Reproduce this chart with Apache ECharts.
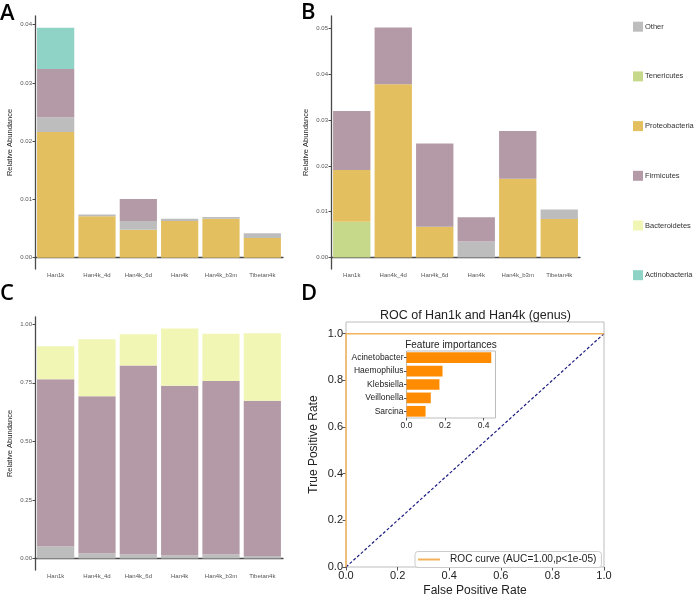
<!DOCTYPE html>
<html><head><meta charset="utf-8">
<script src="https://cdn.jsdelivr.net/npm/echarts@6/dist/echarts.min.js"></script>
<style>html,body{margin:0;padding:0;background:#fff}#c{width:696px;height:598px}</style>
</head><body><div id="c"></div>
<script>
const categories = ['Han1k','Han4k_4d','Han4k_6d','Han4k','Han4k_b3m','Tibetan4k'];
const phyla = ['Tenericutes','Proteobacteria','Other','Firmicutes','Bacteroidetes','Actinobacteria']; // stack order bottom -> top
const legendOrder = ['Other','Tenericutes','Proteobacteria','Firmicutes','Bacteroidetes','Actinobacteria'];
const phylumColors = {Other:'#BDBDBD',Tenericutes:'#C6D98B',Proteobacteria:'#E3BF5F',Firmicutes:'#B39AA6',Bacteroidetes:'#F1F6B4',Actinobacteria:'#8ED3C6'};

// Panel A
const A_Tenericutes    = [0,0,0,0,0,0];
const A_Proteobacteria = [0.0216,0.0071,0.0048,0.0063,0.0067,0.0034];
const A_Other          = [0.0025,0.0003,0.0015,0.0004,0.0003,0.0008];
const A_Firmicutes     = [0.0083,0,0.0038,0,0,0];
const A_Bacteroidetes  = [0,0,0,0,0,0];
const A_Actinobacteria = [0.0071,0,0,0,0,0];
const A_ticks = [0,0.01,0.02,0.03,0.04];
// Panel B
const B_Tenericutes    = [0.0078,0,0,0,0,0];
const B_Proteobacteria = [0.0113,0.0378,0.0067,0,0.0172,0.0084];
const B_Other          = [0,0,0,0.0035,0,0.0021];
const B_Firmicutes     = [0.0129,0.0124,0.0182,0.0053,0.0104,0];
const B_Bacteroidetes  = [0,0,0,0,0,0];
const B_Actinobacteria = [0,0,0,0,0,0];
const B_ticks = [0,0.01,0.02,0.03,0.04,0.05];
// Panel C
const C_Tenericutes    = [0,0,0,0,0,0];
const C_Proteobacteria = [0,0,0,0,0,0];
const C_Other          = [0.052,0.0225,0.018,0.014,0.018,0.011];
const C_Firmicutes     = [0.713,0.6705,0.806,0.724,0.740,0.662];
const C_Bacteroidetes  = [0.141,0.243,0.133,0.244,0.201,0.289];
const C_Actinobacteria = [0,0,0,0,0,0];
const C_ticks = [0,0.25,0.5,0.75,1.0];
// Panel D
const roc_fpr = [0,0,1];
const roc_tpr = [0,1,1];
const chance_x = [0,1];
const chance_y = [0,1];
const D_ticks = [0,0.2,0.4,0.6,0.8,1.0];
const features = ['Acinetobacter','Haemophilus','Klebsiella','Veillonella','Sarcina'];
const importances = [0.44,0.187,0.171,0.126,0.099];
const inset_ticks = [0,0.2,0.4];
const rocName = 'ROC curve (AUC=1.00,p<1e-05)';

const panels = {
  A:{Tenericutes:A_Tenericutes,Proteobacteria:A_Proteobacteria,Other:A_Other,Firmicutes:A_Firmicutes,Bacteroidetes:A_Bacteroidetes,Actinobacteria:A_Actinobacteria},
  B:{Tenericutes:B_Tenericutes,Proteobacteria:B_Proteobacteria,Other:B_Other,Firmicutes:B_Firmicutes,Bacteroidetes:B_Bacteroidetes,Actinobacteria:B_Actinobacteria},
  C:{Tenericutes:C_Tenericutes,Proteobacteria:C_Proteobacteria,Other:C_Other,Firmicutes:C_Firmicutes,Bacteroidetes:C_Bacteroidetes,Actinobacteria:C_Actinobacteria}
};

const gg = 'Liberation Sans, Arial, sans-serif';
const axisGray = '#4a4a4a';
function ggX(gi){
  return {type:'category',gridIndex:gi,data:categories,boundaryGap:true,
    axisLine:{lineStyle:{color:axisGray,width:1.3}},
    axisTick:{alignWithLabel:true,length:2.5,lineStyle:{color:axisGray}},
    axisLabel:{interval:0,fontSize:6,color:'#555',fontFamily:gg,margin:3}};
}
function ggY(gi,min,max,ticks){
  return {type:'value',gridIndex:gi,min:min,max:max,
    name:'Relative Abundance',nameLocation:'middle',nameGap:21,
    nameTextStyle:{fontSize:7.5,color:'#222',fontFamily:gg},
    splitLine:{show:false},
    axisLine:{show:true,lineStyle:{color:axisGray,width:1.3}},
    axisTick:{show:true,length:2.5,customValues:ticks,lineStyle:{color:axisGray}},
    axisLabel:{fontSize:6,color:'#555',fontFamily:gg,margin:3,customValues:ticks,formatter:v=>v.toFixed(2)}};
}

const series = [];
['A','B','C'].forEach((p,gi)=>{
  phyla.forEach(name=>{
    series.push({type:'bar',name:name,xAxisIndex:gi,yAxisIndex:gi,stack:'s'+p,
      barCategoryGap:'10%',itemStyle:{color:phylumColors[name]},
      emphasis:{disabled:true},data:panels[p][name]});
  });
});
series.push({type:'line',name:rocName,xAxisIndex:3,yAxisIndex:3,symbol:'none',
  lineStyle:{color:'#F2B35C',width:1.5},itemStyle:{color:'#F2B35C'},
  data:roc_fpr.map((x,i)=>[x,roc_tpr[i]]),z:5});
series.push({type:'line',name:'chance',xAxisIndex:3,yAxisIndex:3,symbol:'none',
  lineStyle:{color:'#1c1c80',width:1.2,type:[3,2]},
  data:chance_x.map((x,i)=>[x,chance_y[i]])});
series.push({type:'bar',name:'importance',xAxisIndex:4,yAxisIndex:4,barCategoryGap:'20%',z:8,
  itemStyle:{color:'#FF8C00'},emphasis:{disabled:true},data:importances});

const sans = 'Liberation Sans, Arial, sans-serif';
const dAxisText = {fontSize:11,color:'#222',fontFamily:sans};
const letter = {fontSize:22,fontFamily:'Open Sans, sans-serif',fontWeight:600,fill:'#000',verticalAlign:'middle'};

const option = {
  animation:false,
  backgroundColor:'#fff',
  grid:[
    {left:35,top:16,width:248,height:253},
    {left:331,top:16,width:249,height:253},
    {left:35,top:317,width:248,height:253},
    {left:346,top:322,width:258,height:252,show:true,borderColor:'#bdbdbd',borderWidth:1,backgroundColor:'transparent'},
    {left:406.5,top:351,width:89,height:67,show:true,borderColor:'#bdbdbd',borderWidth:1,backgroundColor:'#fff',z:6}
  ],
  xAxis:[
    ggX(0),ggX(1),ggX(2),
    {type:'value',gridIndex:3,min:0,max:1,interval:0.2,
      name:'False Positive Rate',nameLocation:'middle',nameGap:18,nameTextStyle:{fontSize:12,color:'#222',fontFamily:sans},
      splitLine:{show:false},axisLine:{show:false},
      axisTick:{show:true,length:3.5,lineStyle:{color:'#555'}},
      axisLabel:Object.assign({margin:3,formatter:v=>v.toFixed(1)},dAxisText)},
    {type:'value',gridIndex:4,min:0,max:0.462,z:8,
      splitLine:{show:false},axisLine:{show:false},
      axisTick:{show:true,length:2.5,customValues:inset_ticks,lineStyle:{color:'#555'}},
      axisLabel:{fontSize:8.5,color:'#222',fontFamily:sans,margin:3,customValues:inset_ticks,formatter:v=>v.toFixed(1)}}
  ],
  yAxis:[
    ggY(0,-0.00194,0.0415,A_ticks),
    ggY(1,-0.0025,0.0527,B_ticks),
    ggY(2,-0.049,1.031,C_ticks),
    {type:'value',gridIndex:3,min:0,max:1.05,
      name:'True Positive Rate',nameLocation:'middle',nameGap:26,nameTextStyle:{fontSize:12,color:'#222',fontFamily:sans},
      splitLine:{show:false},axisLine:{show:false},
      axisTick:{show:true,length:3.5,customValues:D_ticks,lineStyle:{color:'#555'}},
      axisLabel:Object.assign({margin:3,customValues:D_ticks,formatter:v=>v.toFixed(1)},dAxisText)},
    {type:'category',gridIndex:4,data:features,inverse:true,z:8,
      axisLine:{show:false},
      axisTick:{show:true,alignWithLabel:true,length:2.5,lineStyle:{color:'#555'}},
      axisLabel:{fontSize:8.5,color:'#222',fontFamily:sans,margin:3}}
  ],
  legend:[
    {data:legendOrder,orient:'vertical',left:633,top:21.7,padding:0,itemWidth:10,itemHeight:10,itemGap:39.7,
      icon:'rect',selectedMode:false,textStyle:{fontSize:7.5,color:'#333',fontFamily:gg,padding:[0,0,0,-3]}},
    {data:[rocName],left:415,top:551.5,padding:[3,5,3,3],itemWidth:22,itemHeight:2,icon:'rect',itemGap:0,
      selectedMode:false,borderColor:'#cccccc',borderWidth:1,borderRadius:3,backgroundColor:'#fff',
      textStyle:{fontSize:10.1,color:'#222',fontFamily:sans,padding:[0,0,0,5]}}
  ],
  graphic:[
    {type:'text',x:0,y:14,style:Object.assign({text:'A'},letter)},
    {type:'text',x:301,y:13,style:Object.assign({text:'B'},letter)},
    {type:'text',x:0,y:293.5,style:Object.assign({text:'C'},letter)},
    {type:'text',x:301,y:293.5,style:Object.assign({text:'D'},letter)},
    {type:'text',x:475.5,y:316,style:{text:'ROC of Han1k and Han4k (genus)',fontSize:12.5,fontFamily:sans,fill:'#222',align:'center',verticalAlign:'middle'}},
    {type:'text',x:451,y:345,z:10,style:{text:'Feature importances',fontSize:10,fontFamily:sans,fill:'#222',align:'center',verticalAlign:'middle'}}
  ],
  series:series
};
const chart = echarts.init(document.getElementById('c'),null,{renderer:'canvas'});
chart.setOption(option);
</script></body></html>
